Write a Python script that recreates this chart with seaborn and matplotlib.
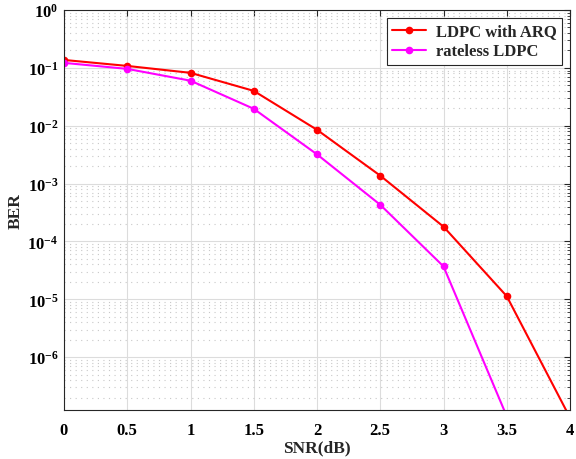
import numpy as np
import pandas as pd
import matplotlib
matplotlib.use('Agg')
import matplotlib.pyplot as plt
import seaborn as sns
from matplotlib.ticker import LogLocator, LogFormatterMathtext, NullFormatter

# Data
snr = [0, 0.5, 1, 1.5, 2, 2.5, 3, 3.5, 4]
ber_arq = [0.137, 0.108, 0.082, 0.040, 0.0085, 1.37e-3, 1.8e-4, 1.13e-5, 9.0e-8]
snr_rl = [0, 0.5, 1, 1.5, 2, 2.5, 3, 3.5]
ber_rl = [0.122, 0.096, 0.060, 0.0196, 3.2e-3, 4.3e-4, 3.7e-5, 9.5e-8]
x_ticks = [0, 0.5, 1, 1.5, 2, 2.5, 3, 3.5, 4]
x_ticklabels = ['0', '0.5', '1', '1.5', '2', '2.5', '3', '3.5', '4']
y_ticks = [1e-6, 1e-5, 1e-4, 1e-3, 1e-2, 1e-1, 1e0]

df = pd.concat([
    pd.DataFrame({'SNR': snr, 'BER': ber_arq, 'scheme': 'LDPC with ARQ'}),
    pd.DataFrame({'SNR': snr_rl, 'BER': ber_rl, 'scheme': 'rateless LDPC'}),
])

sns.set_style('white')
plt.rcParams['font.family'] = ['Liberation Serif', 'DejaVu Serif']
plt.rcParams['font.weight'] = 'bold'
plt.rcParams['mathtext.fontset'] = 'custom'
plt.rcParams['mathtext.rm'] = 'Liberation Serif:bold'
plt.rcParams['mathtext.it'] = 'Liberation Serif:bold'
plt.rcParams['mathtext.bf'] = 'Liberation Serif:bold'

fig = plt.figure(figsize=(5.76, 4.6), dpi=100)
ax = fig.add_axes([64 / 576, 1 - 411 / 460, (570 - 64) / 576, (411 - 11) / 460])

sns.lineplot(data=df, x='SNR', y='BER', hue='scheme', ax=ax,
             palette={'LDPC with ARQ': '#ff0000', 'rateless LDPC': '#ff00ff'},
             marker='o', markersize=5.5, markeredgewidth=0, linewidth=1.5)

ax.set_yscale('log')
ax.set_xlim(0, 4)
ax.set_ylim(1.22e-7, 1)
ax.set_xticks(x_ticks)
ax.set_xticklabels(x_ticklabels)
ax.set_yticks(y_ticks)
ax.yaxis.set_major_formatter(LogFormatterMathtext())
ax.yaxis.set_minor_locator(LogLocator(base=10, subs=np.arange(2, 10), numticks=20))
ax.yaxis.set_minor_formatter(NullFormatter())

ax.grid(True, which='major', color='#dcdcdc', linewidth=0.8, linestyle='-')
ax.grid(True, which='minor', axis='y', color='#c8c8c8', linewidth=0.8, linestyle=(0, (1, 4)))
ax.tick_params(which='both', direction='in', top=True, right=True, labelsize=12, colors='#262626')
ax.tick_params(which='major', length=4)
ax.tick_params(which='minor', length=2)
ax.tick_params(axis='x', pad=9)
ax.tick_params(axis='y', pad=4)
for lab in ax.get_xticklabels() + ax.get_yticklabels():
    lab.set_fontweight('bold')
    lab.set_color('black')
for s in ax.spines.values():
    s.set_color('#262626')
    s.set_linewidth(0.8)

ax.set_xlabel('SNR(dB)', fontsize=12.5, fontweight='bold', labelpad=1)
ax.set_ylabel('BER', fontsize=12.5, fontweight='bold', labelpad=3)

leg = ax.legend(loc='upper right', fontsize=12, frameon=True, fancybox=False,
                edgecolor='#262626', framealpha=1, borderpad=0.3,
                handlelength=2.0, handletextpad=0.6, labelspacing=0.25, borderaxespad=0.5)
leg.get_frame().set_linewidth(0.8)
for t in leg.get_texts():
    t.set_fontweight('bold')

fig.savefig('out.png', dpi=100)
